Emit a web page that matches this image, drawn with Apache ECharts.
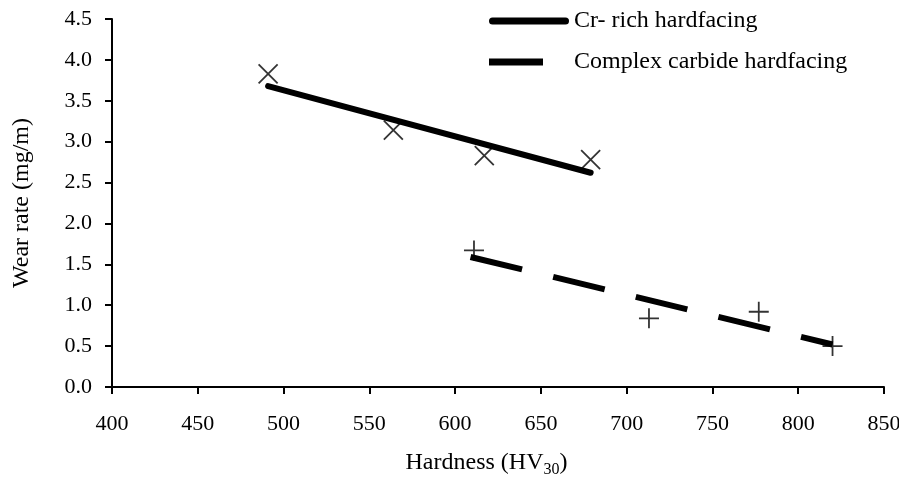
<!DOCTYPE html>
<html>
<head>
<meta charset="utf-8">
<script src="https://cdn.jsdelivr.net/npm/echarts@6/dist/echarts.min.js"></script>
<style>
  html, body { margin: 0; padding: 0; background: #fff; }
  #chart { width: 899px; height: 477px; }
</style>
</head>
<body>
<div id="chart"></div>
<script>
// measured points
const crHardness = [491, 564, 617, 679];
const crWear = [3.83, 3.14, 2.83, 2.78];
const ccHardness = [611, 713, 777, 820];
const ccWear = [1.67, 0.84, 0.92, 0.5];

// trend line end points
const crTrendX = [491, 679];
const crTrendY = [3.68, 2.62];
const ccTrendX = [609, 820];
const ccTrendY = [1.59, 0.52];

const seriesNames = ["Cr- rich hardfacing", "Complex carbide hardfacing"];

const font = "Liberation Serif";
const pair = (xs, ys) => xs.map((x, i) => [x, ys[i]]);

const chart = echarts.init(document.getElementById("chart"));

let option = {
  backgroundColor: "#fff",
  animation: false,
  grid: {
    left: 112,
    right: 15,
    top: 19,
    bottom: 90,
    outerBoundsMode: "none"
  },
  legend: {
    data: [
      // rounded bar, 80 wide
      { name: seriesNames[0], icon: "path://M3.5,0H76.5A3.5,3.5 0 0 1 76.5,7H3.5A3.5,3.5 0 0 1 3.5,0Z" },
      // one dash, the dummy point keeps the box 80 wide
      { name: seriesNames[1], icon: "path://M0,0H54V7H0Z M80,3.5L80,3.5M0,3.5L0,3.5" }
    ],
    orient: "vertical",
    left: 489,
    top: 9,
    padding: 0,
    itemWidth: 80,
    itemHeight: 7,
    itemGap: 17,
    itemStyle: { color: "#000", borderWidth: 0 },
    textStyle: {
      fontFamily: font,
      fontSize: 24,
      color: "#000"
    }
  },
  xAxis: {
    type: "value",
    min: 400,
    max: 850,
    interval: 50,
    name: "Hardness (HV{sub|30})",
    nameLocation: "middle",
    nameGap: 61,
    nameTextStyle: {
      fontFamily: font,
      fontSize: 24,
      color: "#000",
      padding: [0, 23, 0, 0],
      rich: {
        sub: {
          fontFamily: font,
          fontSize: 16,
          color: "#000",
          padding: [14, 0, 0, 0]
        }
      }
    },
    splitLine: { show: false },
    axisLine: { lineStyle: { color: "#000", width: 2 } },
    axisTick: { length: 7, lineStyle: { color: "#000", width: 2 } },
    axisLabel: {
      margin: 26,
      fontFamily: font,
      fontSize: 22,
      color: "#000"
    }
  },
  yAxis: {
    type: "value",
    min: 0,
    max: 4.5,
    interval: 0.5,
    name: "Wear rate (mg/m)",
    nameLocation: "middle",
    nameGap: 78,
    nameTextStyle: {
      fontFamily: font,
      fontSize: 24,
      color: "#000"
    },
    splitLine: { show: false },
    axisLine: { lineStyle: { color: "#000", width: 2 } },
    axisTick: { length: 7, lineStyle: { color: "#000", width: 2 } },
    axisLabel: {
      margin: 20,
      fontFamily: font,
      fontSize: 22,
      color: "#000",
      formatter: v => v.toFixed(1)
    }
  },
  series: [
    {
      name: seriesNames[0],
      type: "line",
      symbol: "none",
      data: pair(crTrendX, crTrendY),
      lineStyle: { color: "#000", width: 6, cap: "round" },
      itemStyle: { color: "#000" },
      z: 2
    },
    {
      name: seriesNames[1],
      type: "line",
      symbol: "none",
      data: pair(ccTrendX, ccTrendY),
      lineStyle: { color: "#000", width: 6, type: [53, 32], cap: "butt" },
      itemStyle: { color: "#000" },
      z: 2
    },
    {
      name: "Cr points",
      type: "scatter",
      symbol: "path://M0,0L10,10M10,0L0,10",
      symbolSize: 19,
      data: pair(crHardness, crWear),
      itemStyle: { color: "transparent", borderColor: "#000", borderWidth: 1.8 },
      z: 3
    },
    {
      name: "CC points",
      type: "scatter",
      symbol: "path://M5,0L5,10M0,5L10,5",
      symbolSize: 20,
      data: pair(ccHardness, ccWear),
      itemStyle: { color: "transparent", borderColor: "#000", borderWidth: 1.8 },
      z: 3
    }
  ]
};

chart.setOption(option);
</script>
</body>
</html>
